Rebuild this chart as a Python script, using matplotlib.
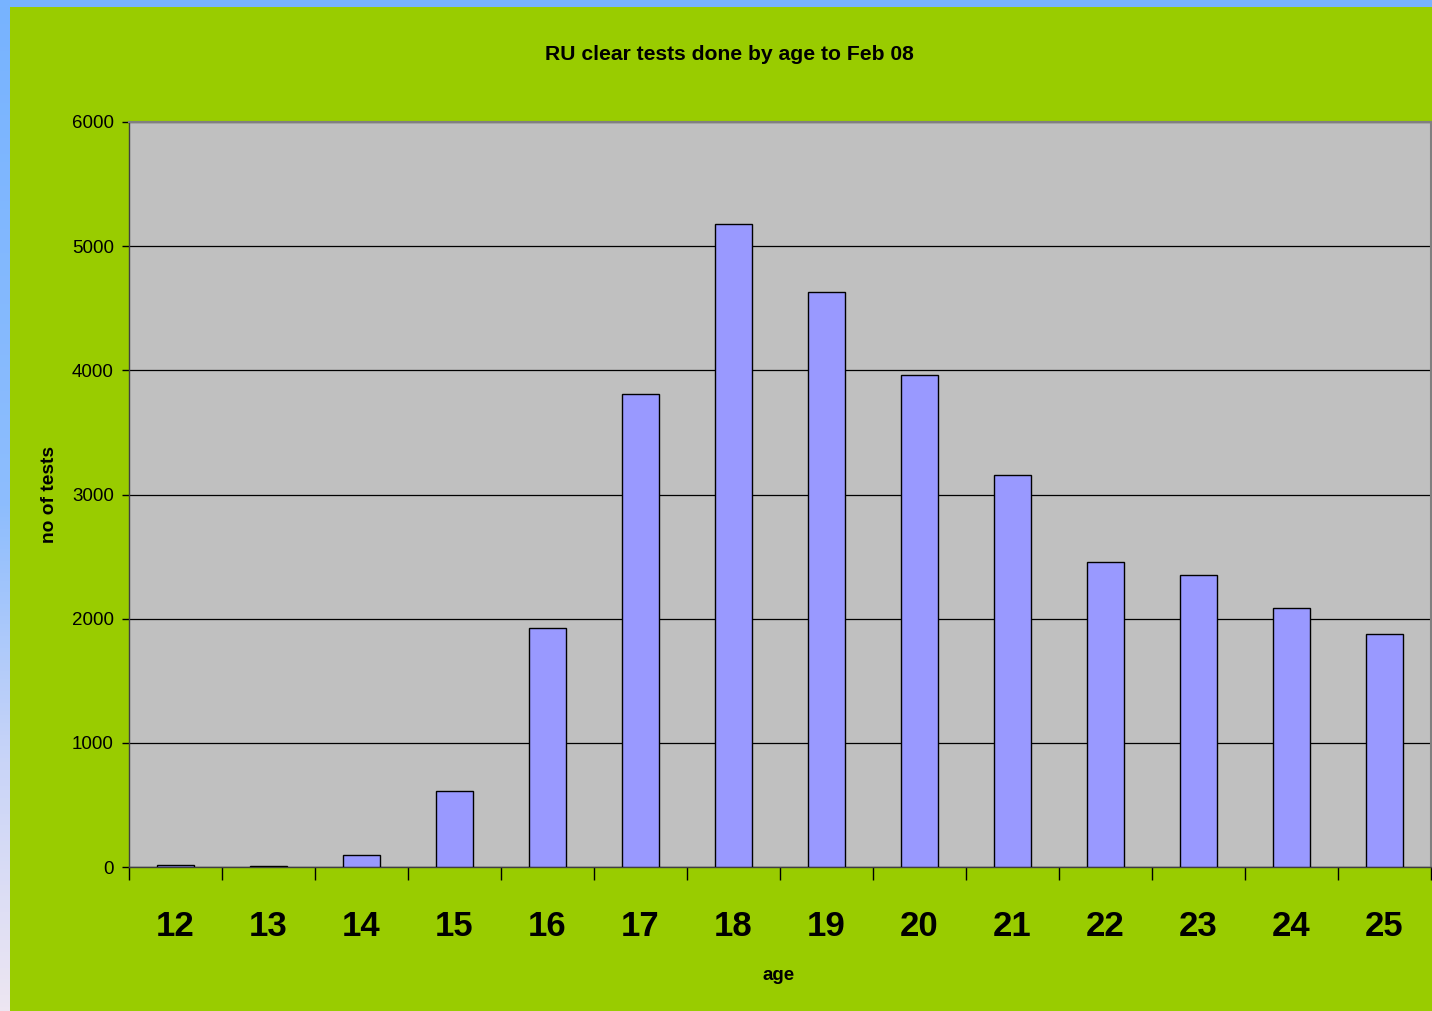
import matplotlib
matplotlib.use("Agg")
import matplotlib.pyplot as plt
import numpy as np
from matplotlib.patches import Rectangle
from matplotlib.colors import LinearSegmentedColormap

ages = ["12", "13", "14", "15", "16", "17", "18", "19", "20", "21", "22", "23", "24", "25"]
tests = [20, 8, 95, 610, 1925, 3810, 5180, 4630, 3960, 3160, 2455, 2350, 2085, 1875]
yticks = [0, 1000, 2000, 3000, 4000, 5000, 6000]

plt.rcParams['font.family'] = ['Liberation Sans', 'DejaVu Sans']

W, H = 1432, 1011
fig = plt.figure(figsize=(W / 100, H / 100), dpi=100)
fig.patch.set_facecolor('#99CC00')

# blue border: top strip and left gradient strip
fig.patches.append(Rectangle((0, 1 - 7 / H), 1, 7 / H, transform=fig.transFigure,
                             facecolor='#77B3FF', edgecolor='none', zorder=0))
bax = fig.add_axes([0, 0, 10 / W, 1])
cmap = LinearSegmentedColormap.from_list('b', [(0, '#EDE6F2'), (0.25, '#C8D4F8'), (0.5, '#8DBDFD'), (1, '#77B3FF')])
grad = np.linspace(0, 1, 256).reshape(-1, 1)
bax.imshow(grad, aspect='auto', cmap=cmap, origin='lower', extent=[0, 1, 0, 1])
bax.axis('off')

ax = fig.add_axes([129 / W, (H - 867) / H, 1302 / W, 745 / H])
ax.set_facecolor('#C0C0C0')
x = np.arange(len(ages))
ax.bar(x, tests, width=0.4, color='#9999FF', edgecolor='black', linewidth=1, zorder=3)
ax.set_xlim(-0.5, len(ages) - 0.5)
ax.set_ylim(0, 6000)
ax.set_yticks(yticks)
ax.set_yticklabels([str(v) for v in yticks], fontsize=13.5)
ax.yaxis.grid(True, color='black', linewidth=0.9, zorder=1)
ax.set_axisbelow(True)

ax.set_xticks(x)
ax.set_xticklabels(ages, fontsize=25, fontweight='bold')
ax.tick_params(axis='x', which='major', length=0, pad=31)
ax.set_xticks(np.arange(len(ages) + 1) - 0.5, minor=True)
ax.tick_params(axis='x', which='minor', length=9, width=1, direction='out', color='black')
ax.tick_params(axis='y', length=5, width=1, direction='out', pad=6, color='black')

for s in ['top', 'right']:
    ax.spines[s].set_color('#808080')
    ax.spines[s].set_linewidth(1.5)
for s in ['left', 'bottom']:
    ax.spines[s].set_color('#404040')
    ax.spines[s].set_linewidth(1)

fig.text(729 / W, 1 - 55 / H, "RU clear tests done by age to Feb 08", ha='center', va='center',
         fontsize=15.2, fontweight='bold')
fig.text(779 / W, 1 - 976 / H, "age", ha='center', va='center', fontsize=13.5, fontweight='bold')
fig.text(50 / W, 1 - 495 / H, "no of tests", ha='center', va='center', rotation=90,
         fontsize=13.8, fontweight='bold')

fig.savefig("out.png", dpi=100, facecolor=fig.get_facecolor())
